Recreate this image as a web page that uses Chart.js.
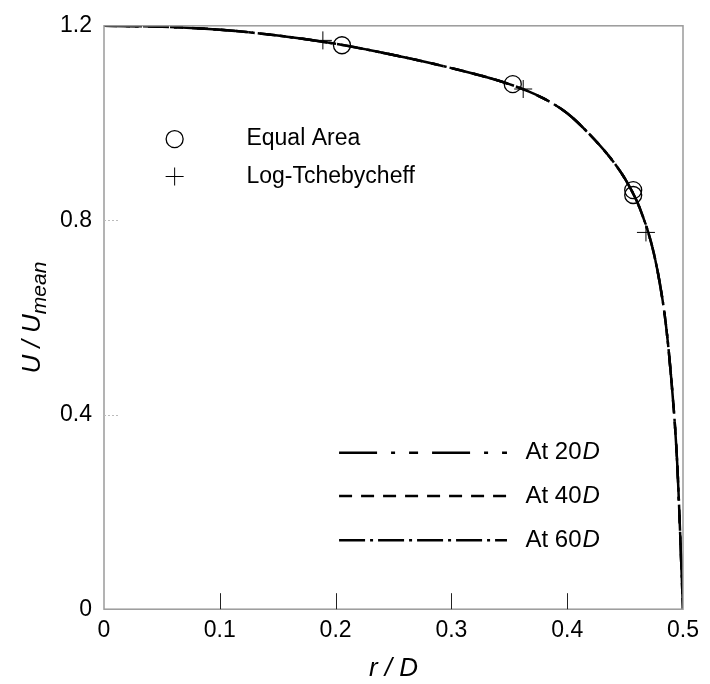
<!DOCTYPE html>
<html>
<head>
<meta charset="utf-8">
<script src="https://cdn.jsdelivr.net/npm/chart.js@4.4.1/dist/chart.umd.min.js"></script>
<style>
  html, body { margin: 0; padding: 0; background: #fff; }
  #wrap { width: 710px; height: 684px; }
</style>
</head>
<body>
<div id="wrap"><canvas id="profile-chart" width="710" height="684"></canvas></div>
<script>
// velocity profile
const radius = [0, 0.05, 0.1, 0.15, 0.2, 0.25, 0.3, 0.35, 0.38, 0.4, 0.42, 0.44, 0.45, 0.46, 0.465, 0.47, 0.475, 0.48, 0.485, 0.49, 0.495, 0.5];
const uAt20D = [1.2, 1.198, 1.192, 1.18, 1.163, 1.14, 1.113, 1.08, 1.05, 1.02, 0.975, 0.92, 0.885, 0.84, 0.81, 0.775, 0.73, 0.67, 0.59, 0.47, 0.3, 0.0];
const uAt40D = [1.2, 1.198, 1.192, 1.18, 1.163, 1.14, 1.113, 1.08, 1.05, 1.02, 0.975, 0.92, 0.885, 0.84, 0.81, 0.775, 0.73, 0.67, 0.59, 0.47, 0.3, 0.0];
const uAt60D = [1.2, 1.198, 1.192, 1.18, 1.163, 1.14, 1.113, 1.08, 1.05, 1.02, 0.975, 0.92, 0.885, 0.84, 0.81, 0.775, 0.73, 0.67, 0.59, 0.47, 0.3, 0.0];

// measurement points
const equalAreaR = [0.2055, 0.353, 0.457, 0.457];
const equalAreaU = [1.16, 1.08, 0.862, 0.852];
const logTchebR = [0.189, 0.362, 0.468];
const logTchebU = [1.17, 1.07, 0.775];

const xTicks = [0, 0.1, 0.2, 0.3, 0.4, 0.5];
const yTicks = [0, 0.4, 0.8, 1.2];

const FONT = '"Liberation Sans", Arial, sans-serif';

function toPoints(xs, ys) {
  return xs.map((x, i) => ({ x: x, y: ys[i] }));
}

const lineStyles = [
  { label: 'At 20', data: uAt20D, dash: [38, 14, 4, 14, 9, 14] },
  { label: 'At 40', data: uAt40D, dash: [13, 9] },
  { label: 'At 60', data: uAt60D, dash: [26, 5, 3, 5] },
];

// frame, inward ticks, in-plot legends, subscript y title
const decorations = {
  id: 'decorations',
  afterDraw(chart) {
    const ctx = chart.ctx;
    const xs = chart.scales.x;
    const ys = chart.scales.y;
    const area = chart.chartArea;
    ctx.save();

    ctx.strokeStyle = '#9a9a9a';
    ctx.lineWidth = 1.5;
    ctx.strokeRect(area.left, area.top, area.right - area.left, area.bottom - area.top);

    ctx.strokeStyle = '#222';
    ctx.lineWidth = 1;
    xTicks.slice(1, -1).forEach((v) => {
      const px = Math.round(xs.getPixelForValue(v)) + 0.5;
      ctx.beginPath();
      ctx.moveTo(px, area.bottom);
      ctx.lineTo(px, area.bottom - 16);
      ctx.stroke();
    });
    ctx.strokeStyle = '#bbb';
    ctx.setLineDash([2, 2]);
    yTicks.slice(1, -1).forEach((v) => {
      const py = Math.round(ys.getPixelForValue(v)) + 0.5;
      ctx.beginPath();
      ctx.moveTo(area.left, py);
      ctx.lineTo(area.left + 16, py);
      ctx.stroke();
    });
    ctx.setLineDash([]);

    // marker legend
    ctx.fillStyle = '#000';
    ctx.textBaseline = 'middle';
    ctx.font = '23px ' + FONT;
    const mx = xs.getPixelForValue(0.061);
    const tx = xs.getPixelForValue(0.123);
    const y1 = ys.getPixelForValue(0.967);
    const y2 = ys.getPixelForValue(0.89);
    ctx.strokeStyle = '#000';
    ctx.lineWidth = 1.3;
    ctx.beginPath();
    ctx.arc(mx, y1, 8.5, 0, Math.PI * 2);
    ctx.stroke();
    ctx.lineWidth = 1;
    ctx.beginPath();
    ctx.moveTo(mx - 9, y2); ctx.lineTo(mx + 9, y2);
    ctx.moveTo(mx, y2 - 9); ctx.lineTo(mx, y2 + 9);
    ctx.stroke();
    ctx.fillText('Equal Area', tx, y1);
    ctx.fillText('Log-Tchebycheff', tx, y2);

    // line legend
    const lx0 = xs.getPixelForValue(0.203);
    const lx1 = xs.getPixelForValue(0.348);
    const ltx = xs.getPixelForValue(0.364);
    const legendY = [0.322, 0.233, 0.142];
    lineStyles.forEach((s, i) => {
      const py = ys.getPixelForValue(legendY[i]);
      ctx.lineWidth = 2.5;
      ctx.setLineDash(s.dash);
      ctx.beginPath();
      ctx.moveTo(lx0, py);
      ctx.lineTo(lx1, py);
      ctx.stroke();
      ctx.setLineDash([]);
      ctx.font = '24px ' + FONT;
      ctx.fillText(s.label, ltx, py);
      const w = ctx.measureText(s.label).width;
      ctx.font = 'italic 24px ' + FONT;
      ctx.fillText('D', ltx + w + 1, py);
    });

    // y axis title  U / U_mean
    ctx.translate(33, (area.top + area.bottom) / 2);
    ctx.rotate(-Math.PI / 2);
    ctx.textBaseline = 'middle';
    const main = 'U / U';
    ctx.font = 'italic 26px ' + FONT;
    const w1 = ctx.measureText(main).width;
    ctx.font = 'italic 21px ' + FONT;
    const w2 = ctx.measureText('mean').width;
    const start = -(w1 + w2) / 2;
    ctx.font = 'italic 26px ' + FONT;
    ctx.fillText(main, start, 0);
    ctx.font = 'italic 21px ' + FONT;
    ctx.fillText('mean', start + w1, 7);
    ctx.restore();
  }
};

const lineSets = lineStyles.map((s) => ({
  label: s.label,
  data: toPoints(radius, s.data),
  borderColor: '#000',
  borderWidth: 2.5,
  borderDash: s.dash,
  pointRadius: 0,
  fill: false,
  cubicInterpolationMode: 'monotone',
  showLine: true,
}));

new Chart(document.getElementById('profile-chart'), {
  type: 'scatter',
  data: {
    datasets: [
      ...lineSets,
      {
        label: 'Equal Area',
        data: toPoints(equalAreaR, equalAreaU),
        pointStyle: 'circle',
        pointRadius: 8.5,
        borderColor: '#000',
        backgroundColor: 'rgba(0,0,0,0)',
        borderWidth: 1.3,
      },
      {
        label: 'Log-Tchebycheff',
        data: toPoints(logTchebR, logTchebU),
        pointStyle: 'cross',
        pointRadius: 9,
        borderColor: '#000',
        borderWidth: 1,
      },
    ],
  },
  options: {
    responsive: false,
    animation: false,
    layout: { padding: { left: 0, right: 27, top: 25, bottom: 0 } },
    plugins: { legend: { display: false }, tooltip: { enabled: false } },
    scales: {
      x: {
        type: 'linear',
        min: 0,
        max: 0.5,
        afterBuildTicks: (axis) => { axis.ticks = xTicks.map((v) => ({ value: v })); },
        grid: { display: false, drawTicks: false },
        border: { display: false },
        ticks: {
          color: '#000',
          font: { family: FONT, size: 23 },
          padding: 8,
          maxRotation: 0,
          callback: (v) => String(v),
        },
        title: {
          display: true,
          text: 'r / D',
          color: '#000',
          font: { family: FONT, size: 26, style: 'italic' },
          padding: { top: 0, bottom: 0 },
        },
      },
      y: {
        type: 'linear',
        min: 0,
        max: 1.2,
        afterBuildTicks: (axis) => { axis.ticks = yTicks.map((v) => ({ value: v })); },
        grid: { display: false, drawTicks: false },
        border: { display: false },
        afterFit: (axis) => { axis.width = 104; },
        ticks: {
          color: '#000',
          font: { family: FONT, size: 23 },
          padding: 12,
          callback: (v) => String(v),
        },
      },
    },
  },
  plugins: [decorations],
});
</script>
</body>
</html>
